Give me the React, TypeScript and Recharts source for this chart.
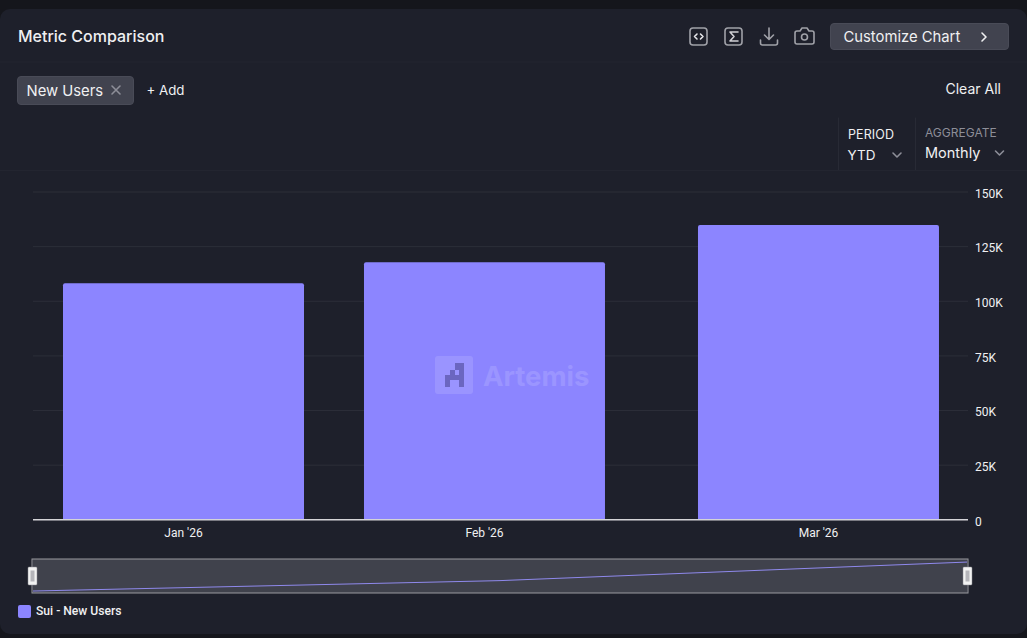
import React from "react";
import { BarChart, LineChart, Line, Bar, XAxis, YAxis, CartesianGrid, Brush, Legend } from "recharts";

const dayOffsets = [15.5, 46.5, 80.9];
const monthLabels = ["Jan '26", "Feb '26", "Mar '26"];
const newUsers = [108200, 117800, 134900];
const yTicks = [0, 25000, 50000, 75000, 100000, 125000, 150000];
const SERIES_NAME = "Sui - New Users";
const rows = dayOffsets.map((day, i) => ({ day, label: monthLabels[i], users: newUsers[i] }));

const UI = "Inter, sans-serif";
const BG = "#1e202b";
const BAR = "#8c85ff";

const Txt = ({ x, y, children, size = 14.5, color = "#f0f0f2", weight = 400, ls = 0 }: any) => (
  <div style={{ position: "absolute", left: x, top: y, fontFamily: UI, fontSize: size, color, fontWeight: weight, letterSpacing: ls, lineHeight: "18px", whiteSpace: "nowrap" }}>{children}</div>
);

const Icons = () => (
  <svg width={1027} height={638} style={{ position: "absolute", left: 0, top: 0, pointerEvents: "none" }} fill="none" stroke="#a0a1a8" strokeWidth={1.6} strokeLinecap="round" strokeLinejoin="round">
    <rect x={690} y={28} width={17} height={17} rx={3} />
    <path d="M697 34l-2.5 2.5 2.5 2.5M700.5 34l2.5 2.5-2.5 2.5" stroke="#e6e6ea" />
    <rect x={725} y={28} width={17} height={17} rx={3} />
    <path d="M738 32h-8l4 4.5-4 4.5h8" stroke="#d0d0d5" />
    <path d="M769 28v11M764.5 35l4.5 4.5 4.5-4.5M760.5 40v3a2 2 0 002 2h13a2 2 0 002-2v-3" />
    <path d="M797 31h3l2-3h5l2 3h3a2 2 0 012 2v9a2 2 0 01-2 2h-15a2 2 0 01-2-2v-9a2 2 0 012-2z" />
    <circle cx={804.5} cy={37} r={3} />
    <path d="M982 33l4 4-4 4" stroke="#f0f0f2" />
    <path d="M112 86l8 8M120 86l-8 8" stroke="#8d8e98" />
    <path d="M893 153l4 4 4-4M995.5 151l4 4 4-4" stroke="#8d8e98" />
    <line x1={838.5} y1={118} x2={838.5} y2={170} stroke="#282a35" strokeWidth={1} />
    <line x1={915.5} y1={118} x2={915.5} y2={170} stroke="#282a35" strokeWidth={1} />
    <line x1={0} y1={62} x2={1027} y2={62} stroke="#232530" strokeWidth={1} />
    <line x1={0} y1={170.5} x2={1027} y2={170.5} stroke="#232530" strokeWidth={1} />
  </svg>
);

const Traveller = (p: any) => {
  const cx = p.x + p.width / 2;
  const cy = p.y + p.height / 2;
  return (
    <g>
      <rect x={cx - 4.5} y={cy - 9} width={9} height={18} rx={1} fill="#f2f2f2" stroke="#8a8a90" strokeWidth={0.5} />
      <rect x={cx - 2} y={cy - 5.5} width={4} height={11} fill="#b5b5ba" />
    </g>
  );
};

const LegendBox = ({ payload }: any) => (
  <div style={{ display: "flex", alignItems: "center", fontFamily: "Roboto, sans-serif", fontSize: 12.1, fontWeight: 500, color: "#f0f0f2" }}>
    {(payload || []).map((e: any) => (
      <span key={e.value} style={{ display: "flex", alignItems: "center" }}>
        <span style={{ width: 13, height: 13, borderRadius: 2, background: e.color, marginRight: 5 }} />
        {e.value}
      </span>
    ))}
  </div>
);

export default function App() {
  return (
    <div style={{ position: "absolute", left: 0, top: 0, width: 1027, height: 638, background: "#15161c", overflow: "hidden" }}>
      <div style={{ position: "absolute", left: 0, top: 9, width: 1027, height: 625, background: BG, borderRadius: 10 }} />
      <div style={{ position: "absolute", left: 830, top: 23, width: 177, height: 25, background: "#41434f", border: "1px solid #494b57", borderRadius: 4 }} />
      <div style={{ position: "absolute", left: 17, top: 76, width: 115, height: 27, background: "#41434f", border: "1px solid #494b57", borderRadius: 4 }} />
      <Icons />
      <Txt x={18} y={27} size={16} weight={500}>Metric Comparison</Txt>
      <Txt x={843.5} y={28} size={14.8} weight={400}>Customize Chart</Txt>
      <Txt x={26.5} y={82} size={14.8}>New Users</Txt>
      <Txt x={146.5} y={81} size={13.3}>+ Add</Txt>
      <Txt x={945.5} y={80} size={14}>Clear All</Txt>
      <Txt x={848} y={126} size={12.5} ls={0.1}>PERIOD</Txt>
      <Txt x={847.5} y={146} size={13.5}>YTD</Txt>
      <Txt x={925} y={124} size={12} color="#8d8e98">AGGREGATE</Txt>
      <Txt x={925} y={144} size={14.5}>Monthly</Txt>
      <div style={{ position: "absolute", left: 0, top: 0 }}>
        <BarChart width={1027} height={638} data={rows} margin={{ top: 192, right: 0, bottom: 42.2, left: 33 }}>
          <CartesianGrid vertical={false} stroke="#2c2e39" strokeWidth={1} />
          <XAxis
            dataKey="day"
            type="number"
            domain={[0, 96.3]}
            ticks={dayOffsets}
            tickFormatter={(v: number) => monthLabels[dayOffsets.indexOf(v)]}
            tickLine={false}
            axisLine={{ stroke: "#d4d4d8", strokeWidth: 1.5 }}
            tick={{ fill: "#f0f0f2", fontSize: 12, fontFamily: "Roboto, sans-serif", dy: 1 }}
            height={26}
          />
          <YAxis
            orientation="right"
            width={59}
            domain={[0, 150000]}
            ticks={yTicks}
            tickFormatter={(v: number) => (v === 0 ? "0" : `${v / 1000}K`)}
            tickLine={false}
            axisLine={false}
            tick={{ fill: "#f0f0f2", fontSize: 12, fontFamily: "Roboto, sans-serif", dy: 1.5, dx: -1 }}
          />
          <Bar dataKey="users" name={SERIES_NAME} fill={BAR} barSize={241} radius={[2, 2, 0, 0]} isAnimationActive={false} />
          <Brush
            dataKey="label"
            x={32}
            y={559}
            width={936}
            height={34}
            travellerWidth={1}
            fill="#2a2c38"
            stroke="#9a9aa0"
            traveller={<Traveller />}
          >
            <LineChart data={rows}>
              <XAxis xAxisId="mini" dataKey="label" hide scale="point" />
              <YAxis yAxisId="mini" hide domain={[107300, 136800]} />
              <Line xAxisId="mini" yAxisId="mini" dataKey="users" stroke={BAR} strokeWidth={1} dot={false} isAnimationActive={false} legendType="none" />
            </LineChart>
          </Brush>
          <Legend
            content={<LegendBox />}
            verticalAlign="bottom"
            align="left"
            wrapperStyle={{ left: 18, bottom: 18, width: 300, height: 16 }}
          />
        </BarChart>
      </div>
      <svg width={38} height={38} style={{ position: "absolute", left: 435, top: 356 }}>
        <rect width={38} height={38} rx={3} fill="#ffffff" fillOpacity={0.13} />
        <path fillRule="evenodd" d="M10 31V19h5v-5h5V7h9v24h-5v-7h-9v7zM20 14v5h4v-5z" fill="#5f5ab0" fillOpacity={0.8} />
      </svg>
      <div style={{ position: "absolute", left: 483, top: 359, fontFamily: UI, fontWeight: 700, fontSize: 27.5, lineHeight: "34px", color: "#ffffff", opacity: 0.13, whiteSpace: "nowrap" }}>Artemis</div>
    </div>
  );
}
